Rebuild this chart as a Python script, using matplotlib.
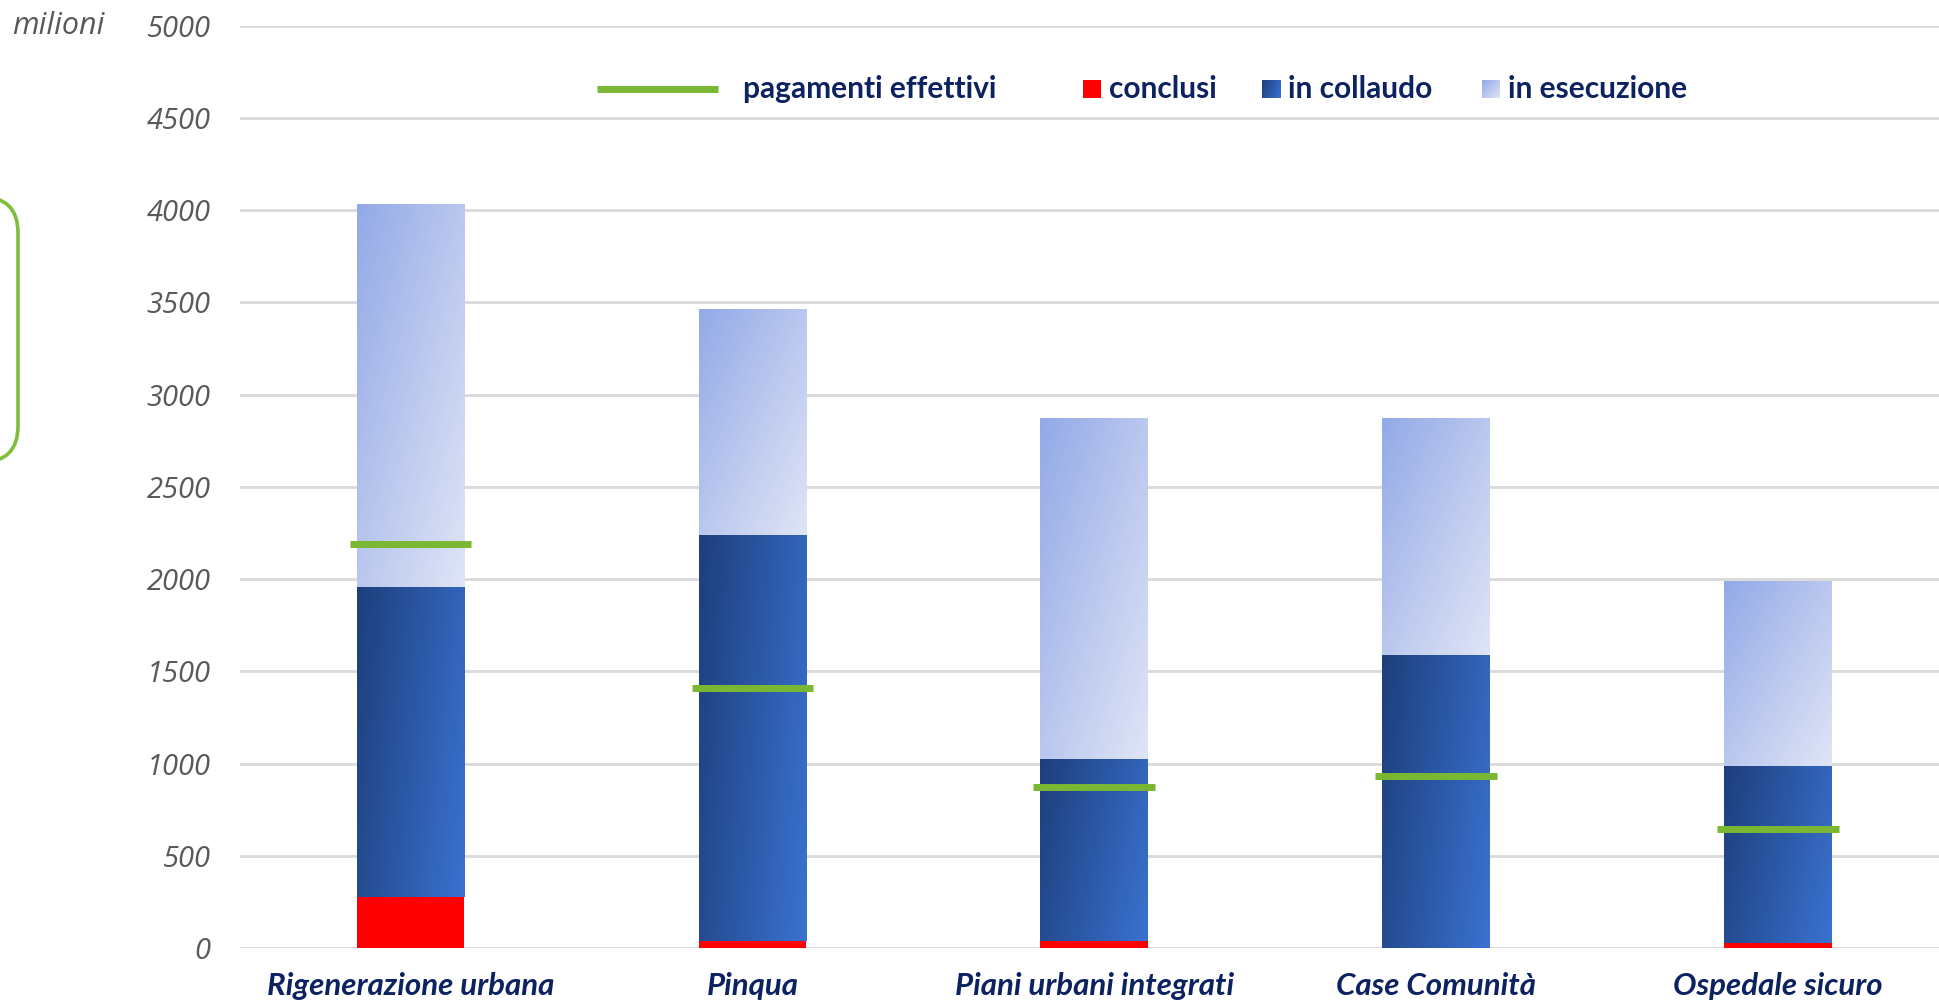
import numpy as np
import matplotlib
matplotlib.use("Agg")
import matplotlib.pyplot as plt
from matplotlib.colors import LinearSegmentedColormap
from matplotlib.patches import Rectangle, FancyBboxPatch
from matplotlib.lines import Line2D

# ---------------- data ----------------
categories = ['Rigenerazione urbana', 'Pinqua', 'Piani urbani integrati',
              'Case Comunità', 'Ospedale sicuro']
conclusi = [276, 38, 38, 0, 27]
in_collaudo = [1680, 2200, 987, 1588, 959]
in_esecuzione = [2080, 1227, 1848, 1285, 1002]
pagamenti_effettivi = [2192, 1407, 871, 932, 643]
yticks = [0, 500, 1000, 1500, 2000, 2500, 3000, 3500, 4000, 4500, 5000]
legend_labels = ['pagamenti effettivi', 'conclusi', 'in collaudo', 'in esecuzione']

W, H = 1939, 1002
DPI = 100
fig = plt.figure(figsize=(W / DPI, H / DPI), dpi=DPI)
fig.patch.set_facecolor('white')

NAVY = '#0D2260'
GRAY = '#595959'
GREEN = '#7AB833'
RED = '#FF0000'

cmap_col = LinearSegmentedColormap.from_list('col', ['#1E3F7C', '#2B58A6', '#3A72D0'])
cmap_ese = LinearSegmentedColormap.from_list('ese', ['#93AAE8', '#BAC7EE', '#DFE5F7'])

# axes placement (pixel coords)
ax_left, ax_right, ax_top, ax_bot = 239.6, 1949, 25.7, 948
ax = fig.add_axes([ax_left / W, 1 - ax_bot / H, (ax_right - ax_left) / W, (ax_bot - ax_top) / H])
ax.set_facecolor('none')

x = np.arange(len(categories))
bw = 0.315

def gradient_img(cmap, wx=0.7, wy=0.3):
    n = 64
    u = np.linspace(0, 1, n)[None, :]
    v = np.linspace(0, 1, n)[:, None]
    t = (wx * u + wy * v) / (wx + wy)
    return cmap(t)

b1 = ax.bar(x, conclusi, bw, color=RED, zorder=3, linewidth=0)
bottom2 = np.array(conclusi)
b2 = ax.bar(x, in_collaudo, bw, bottom=bottom2, color='none', zorder=3, linewidth=0)
bottom3 = bottom2 + np.array(in_collaudo)
b3 = ax.bar(x, in_esecuzione, bw, bottom=bottom3, color='none', zorder=3, linewidth=0)

img_col = gradient_img(cmap_col, 0.75, 0.25)
img_ese = gradient_img(cmap_ese, 0.5, 0.5)
for bars, img in ((b2, img_col), (b3, img_ese)):
    for p in bars:
        x0, y0 = p.get_x(), p.get_y()
        w, h = p.get_width(), p.get_height()
        im = ax.imshow(img, extent=(x0, x0 + w, y0, y0 + h), origin='upper',
                       aspect='auto', zorder=3, interpolation='bilinear')
        im.set_clip_path(p)

# pagamenti effettivi lines
lw_half = 0.178
ax.hlines(pagamenti_effettivi, x - lw_half, x + lw_half, colors=GREEN, linewidth=5.0, zorder=5)

ax.set_xlim(-0.5, len(categories) - 0.5)
ax.set_ylim(0, 5000)
ax.set_yticks(yticks)
ax.set_yticklabels([str(v) for v in yticks], fontsize=21, color=GRAY, style='italic',
                   family='Open Sans')
ax.tick_params(axis='y', length=0, pad=21)
ax.set_xticks([])
for s in ax.spines.values():
    s.set_visible(False)
ax.grid(axis='y', color='#D9D9D9', linewidth=2.0, zorder=0)
ax.set_axisbelow(True)

# category labels at the bottom edge
for xi, lab in zip(x, categories):
    fx = (ax_left + (xi + 0.5) * (ax_right - ax_left) / len(categories)) / W
    fig.text(fx, 0.0015, lab, ha='center', va='bottom', fontsize=22.5,
             fontweight='bold', style='italic', color=NAVY, family='Lato')

# overlay axes in pixel coordinates for decorations
ov = fig.add_axes([0, 0, 1, 1])
ov.set_xlim(0, W)
ov.set_ylim(H, 0)
ov.axis('off')
ov.set_facecolor('none')

# "milioni"
ov.text(12, 26, 'milioni', ha='left', va='center', fontsize=22, style='italic',
        color=GRAY, family='Open Sans')

# green rounded box, mostly off-canvas
ov.add_patch(FancyBboxPatch((-300, 197), 318, 265, boxstyle='round,pad=0,rounding_size=36',
                            fill=False, edgecolor='#7DBE3A', linewidth=2.6))

# legend
ly = 89
fs_leg = 21.5
ov.add_line(Line2D([597, 718], [ly, ly], color=GREEN, linewidth=5.0, solid_capstyle='butt'))
ov.text(743, ly, legend_labels[0], ha='left', va='center', fontsize=fs_leg, fontweight='bold',
        color=NAVY, family='Lato')
ov.add_patch(Rectangle((1083, ly - 9), 18, 18, color=RED, linewidth=0))
ov.text(1109, ly, legend_labels[1], ha='left', va='center', fontsize=fs_leg, fontweight='bold',
        color=NAVY, family='Lato')
ov.imshow(img_col, extent=(1262, 1281, ly + 9, ly - 9), origin='upper', aspect='auto',
          interpolation='bilinear')
ov.text(1288, ly, legend_labels[2], ha='left', va='center', fontsize=fs_leg, fontweight='bold',
        color=NAVY, family='Lato')
ov.imshow(img_ese, extent=(1482, 1500, ly + 9, ly - 9), origin='upper', aspect='auto',
          interpolation='bilinear')
ov.text(1508, ly, legend_labels[3], ha='left', va='center', fontsize=fs_leg, fontweight='bold',
        color=NAVY, family='Lato')
ov.set_xlim(0, W)
ov.set_ylim(H, 0)

fig.savefig('out.png', dpi=DPI, facecolor='white')
